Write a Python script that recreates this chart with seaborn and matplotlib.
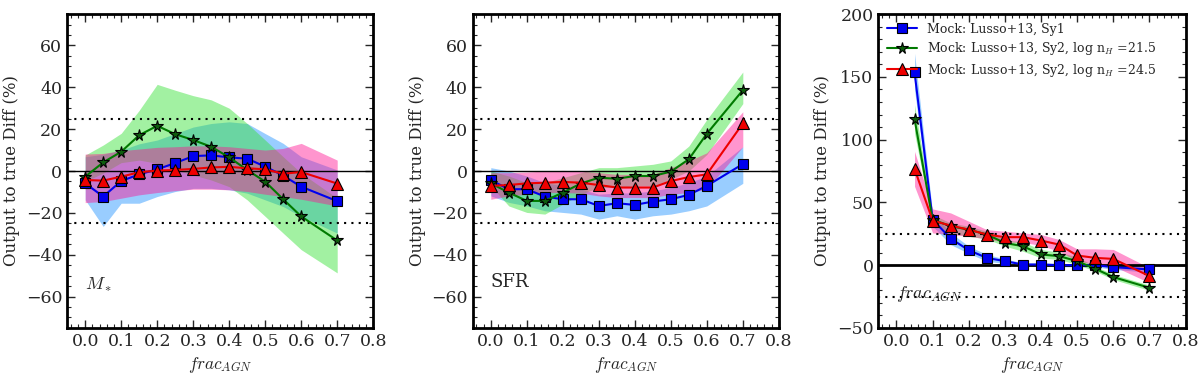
import numpy as np
import pandas as pd
import matplotlib
matplotlib.use("Agg")
import matplotlib.pyplot as plt
import seaborn as sns
from matplotlib.ticker import AutoMinorLocator, MultipleLocator

# ---------------- data ----------------
frac = [0.0, 0.05, 0.1, 0.15, 0.2, 0.25, 0.3, 0.35, 0.4, 0.45, 0.5, 0.55, 0.6, 0.7]
frac3 = [0.05, 0.1, 0.15, 0.2, 0.25, 0.3, 0.35, 0.4, 0.45, 0.5, 0.55, 0.6, 0.7]

# Panel 1: M*
m_sy1 = [-5.9, -12.2, -4.8, -1.6, 0.8, 3.8, 7.1, 7.5, 6.5, 5.9, 2.1, -2.2, -7.5, -14.4]
m_sy1_hi = [6.8, 8.0, 10.0, 13.0, 14.8, 17.9, 21.0, 22.7, 23.5, 22.7, 17.9, 13.2, 6.8, 0.5]
m_sy1_lo = [-13.8, -26.5, -15.4, -15.4, -12.2, -9.8, -8.3, -8.3, -9.0, -10.6, -13.8, -17.0, -21.7, -29.7]
m_sy2a = [-2.7, 4.1, 9.2, 17.1, 21.6, 17.6, 14.8, 11.6, 6.5, 0.5, -5.1, -13.5, -21.7, -33.2]
m_sy2a_hi = [7.6, 12.4, 18.0, 29.0, 41.4, 38.6, 36.0, 34.0, 30.0, 22.7, 14.8, 6.8, -1.0, -13.0]
m_sy2a_lo = [-5.0, -1.0, 4.0, 5.2, 3.7, 0.5, -1.9, -4.3, -7.5, -13.8, -21.7, -29.7, -37.6, -48.7]
m_sy2b = [-4.3, -4.6, -2.7, -0.6, 0.2, 0.5, 1.0, 1.7, 2.0, 1.3, 0.8, -1.3, -0.5, -6.0]
m_sy2b_hi = [8.1, 8.4, 9.7, 10.5, 11.3, 11.6, 12.0, 12.0, 11.6, 10.8, 10.0, 10.8, 13.2, 5.2]
m_sy2b_lo = [-15.1, -14.6, -13.0, -11.4, -10.3, -9.4, -8.7, -8.7, -9.0, -9.8, -11.1, -12.2, -13.5, -16.7]

# Panel 2: SFR
s_sy1 = [-4.4, -8.7, -8.7, -12.2, -13.5, -13.5, -16.7, -15.4, -16.2, -14.6, -13.5, -11.4, -7.1, 3.3]
s_sy1_hi = [1.6, 0.0, -2.4, -5.6, -7.1, -8.7, -11.1, -10.5, -10.5, -9.5, -7.9, -5.6, -2.4, 11.6]
s_sy1_lo = [-11.9, -15.0, -16.7, -19.0, -19.8, -20.6, -23.0, -21.4, -23.0, -21.4, -20.6, -19.0, -16.7, -5.9]
s_sy2a = [-5.9, -10.3, -14.3, -14.3, -10.3, -6.0, -3.2, -3.7, -2.4, -2.4, -0.3, 5.6, 17.8, 38.6]
s_sy2a_hi = [0.0, -2.4, -5.6, -5.6, -3.2, -0.8, 1.6, 1.6, 2.4, 3.2, 4.8, 11.9, 24.6, 47.3]
s_sy2a_lo = [-7.1, -16.7, -19.8, -20.6, -15.9, -11.1, -7.9, -7.9, -7.1, -7.1, -4.0, 0.0, 7.9, 32.2]
s_sy2b = [-7.1, -6.7, -5.9, -5.6, -5.2, -5.6, -6.7, -7.9, -7.9, -7.9, -4.8, -2.9, -1.6, 22.7]
s_sy2b_hi = [-0.8, -0.8, -0.5, 0.0, 0.3, 0.0, -0.8, -1.6, -1.6, -1.6, 1.6, 4.8, 8.7, 28.3]
s_sy2b_lo = [-13.5, -11.9, -11.1, -10.3, -10.3, -10.6, -11.9, -12.7, -12.7, -12.7, -11.1, -10.3, -8.7, 11.6]

# Panel 3: AGN fraction
a_sy1 = [153.6, 36.3, 21.2, 11.9, 5.8, 3.2, 0.5, 0.5, 0.0, 0.0, 0.0, -1.6, -3.4]
a_sy1_hi = [168.7, 41.6, 25.7, 15.1, 8.5, 5.0, 1.9, 1.9, 1.3, 1.3, 1.3, 0.5, -0.8]
a_sy1_lo = [139.6, 31.0, 16.4, 9.3, 3.2, 1.3, -0.8, -0.8, -1.3, -1.3, -1.3, -3.4, -5.6]
a_sy2a = [116.3, 36.3, 31.0, 28.3, 24.4, 17.7, 15.1, 8.5, 7.2, 3.2, -2.9, -9.5, -18.0]
a_sy2a_hi = [127.7, 40.3, 33.6, 31.0, 27.0, 20.4, 18.3, 12.5, 10.3, 6.6, -0.8, -7.4, -15.9]
a_sy2a_lo = [105.2, 32.3, 25.7, 23.0, 20.9, 15.1, 11.1, 5.8, 4.5, 0.5, -4.8, -11.4, -20.1]
a_sy2b = [76.8, 35.5, 31.5, 28.3, 24.4, 22.3, 22.3, 19.6, 16.4, 7.7, 5.8, 5.0, -8.7]
a_sy2b_hi = [90.6, 44.8, 41.6, 35.0, 28.3, 27.0, 25.7, 24.4, 20.4, 13.0, 13.0, 12.5, -2.1]
a_sy2b_lo = [62.8, 25.7, 24.4, 23.0, 20.9, 18.3, 18.3, 15.6, 11.1, 3.2, 0.5, -0.8, -14.0]

labels = ["Mock: Lusso+13, Sy1",
          r"Mock: Lusso+13, Sy2, log n$_H$ =21.5",
          r"Mock: Lusso+13, Sy2, log n$_H$ =24.5"]
xticks = [0.0, 0.1, 0.2, 0.3, 0.4, 0.5, 0.6, 0.7, 0.8]

# ---------------- style ----------------
sns.set_style("ticks")
plt.rcParams["font.family"] = ["DejaVu Serif"]
plt.rcParams["mathtext.fontset"] = "cm"
plt.rcParams["xtick.direction"] = "in"
plt.rcParams["ytick.direction"] = "in"

fig = plt.figure(figsize=(12, 3.8), dpi=100)
rects = [[0.056, 0.137, 0.255, 0.826],
         [0.394, 0.137, 0.255, 0.826],
         [0.732, 0.137, 0.256, 0.826]]
axes = [fig.add_axes(r) for r in rects]

fill_cols = ["#1e90ff", "#32e032", "#ff1493"]
fill_alpha = [0.45, 0.45, 0.45]
line_cols = ["#0000ee", "#007a00", "#ee0000"]
mfc = ["#0000ee", "#0d5e0d", "#ee0000"]
markers = ["s", "*", "^"]
msizes = [7.5, 8.5, 8.5]

panels = [
    (frac, [(m_sy1, m_sy1_lo, m_sy1_hi), (m_sy2a, m_sy2a_lo, m_sy2a_hi), (m_sy2b, m_sy2b_lo, m_sy2b_hi)]),
    (frac, [(s_sy1, s_sy1_lo, s_sy1_hi), (s_sy2a, s_sy2a_lo, s_sy2a_hi), (s_sy2b, s_sy2b_lo, s_sy2b_hi)]),
    (frac3, [(a_sy1, a_sy1_lo, a_sy1_hi), (a_sy2a, a_sy2a_lo, a_sy2a_hi), (a_sy2b, a_sy2b_lo, a_sy2b_hi)]),
]

for pi, (ax, (xs, series)) in enumerate(zip(axes, panels)):
    for si, (y, lo, hi) in enumerate(series):
        ax.fill_between(xs, lo, hi, color=fill_cols[si], alpha=fill_alpha[si], linewidth=0, zorder=1)
    ax.axhline(0, color="k", lw=2.0 if pi == 2 else 1.0, zorder=2)
    ax.axhline(25, color="k", lw=1.5, ls=(0, (1, 2.5)), zorder=2)
    ax.axhline(-25, color="k", lw=1.5, ls=(0, (1, 2.5)), zorder=2)
    for si, (y, lo, hi) in enumerate(series):
        df = pd.DataFrame({"x": xs, "y": y})
        sns.lineplot(data=df, x="x", y="y", ax=ax, color=line_cols[si], lw=1.5,
                     marker=markers[si], markersize=msizes[si], markerfacecolor=mfc[si],
                     markeredgecolor="k", markeredgewidth=0.8, estimator=None, sort=False,
                     label=labels[si] if pi == 2 else None, legend=False, zorder=3)
    ax.set_xlim(-0.05, 0.8)
    ax.set_xticks(xticks)
    ax.set_xticklabels([f"{t:.1f}" for t in xticks])
    if pi < 2:
        ax.set_ylim(-75, 75)
        ax.yaxis.set_major_locator(MultipleLocator(20))
    else:
        ax.set_ylim(-50, 200)
        ax.yaxis.set_major_locator(MultipleLocator(50))
    ax.xaxis.set_minor_locator(AutoMinorLocator())
    ax.yaxis.set_minor_locator(AutoMinorLocator())
    ax.tick_params(which="both", top=True, right=True, labelsize=12.5)
    ax.tick_params(which="major", length=6, width=1)
    ax.tick_params(which="minor", length=3, width=0.8)
    for sp in ax.spines.values():
        sp.set_linewidth(2)
        sp.set_color("k")
    ax.set_xlabel(r"$frac_{AGN}$", fontsize=12.5)
    ax.set_ylabel("Output to true Diff (%)", fontsize=12)

axes[0].text(0.0, -54, r"$M_*$", fontsize=13, va="center", ha="left")
axes[1].text(0.0, -53, "SFR", fontsize=13, va="center", ha="left")
axes[2].text(0.0, -23, r"$frac_{AGN}$", fontsize=13, va="center", ha="left")

h, l = axes[2].get_legend_handles_labels()
axes[2].legend(h, l, loc="upper left", frameon=False, fontsize=9,
               handlelength=2.4, borderaxespad=0.3, labelspacing=0.35)

fig.savefig("out.png", dpi=100)
